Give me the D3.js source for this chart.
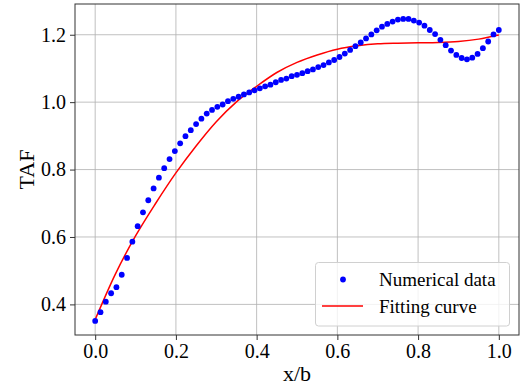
<!DOCTYPE html>
<html>
<head>
<meta charset="utf-8">
<script src="https://cdn.jsdelivr.net/npm/d3@7"></script>
<style>
  body { margin: 0; background: #fff; }
  svg { display: block; font-family: "Liberation Serif", "Times New Roman", serif; }
</style>
</head>
<body>
<script>
// numerical data, 77 points over x/b = 0..1
const numY = [
  0.351, 0.377, 0.408, 0.433, 0.451, 0.488, 0.538, 0.586, 0.632, 0.673,
  0.709, 0.744, 0.776, 0.804, 0.831, 0.855, 0.878, 0.899, 0.917, 0.935,
  0.951, 0.966, 0.977, 0.986, 0.993, 1.003, 1.010, 1.016, 1.023, 1.029,
  1.035, 1.041, 1.047, 1.052, 1.059, 1.066, 1.070, 1.077, 1.081, 1.086,
  1.092, 1.097, 1.104, 1.110, 1.118, 1.125, 1.134, 1.144, 1.155, 1.166,
  1.177, 1.189, 1.201, 1.213, 1.224, 1.232, 1.239, 1.245, 1.247, 1.247,
  1.242, 1.236, 1.227, 1.214, 1.202, 1.185, 1.169, 1.153, 1.140, 1.131,
  1.127, 1.132, 1.143, 1.160, 1.180, 1.201, 1.214
];
const numX = numY.map((d, i) => i / (numY.length - 1));

// fitting curve
const fitX = [0, 0.05, 0.1, 0.15, 0.2, 0.25, 0.3, 0.35, 0.4, 0.45, 0.5,
              0.55, 0.6, 0.65, 0.7, 0.75, 0.8, 0.85, 0.9, 0.95, 1.0];
const fitY = [0.355, 0.490, 0.603, 0.700, 0.790, 0.870, 0.942, 1.001, 1.047, 1.088, 1.118,
              1.140, 1.157, 1.167, 1.173, 1.175, 1.176, 1.177, 1.180, 1.187, 1.199];

const xTicks = [0.0, 0.2, 0.4, 0.6, 0.8, 1.0];
const yTicks = [0.4, 0.6, 0.8, 1.0, 1.2];
const legendLabels = ["Numerical data", "Fitting curve"];

const W = 522, H = 387;
const margin = {top: 4, right: 3, bottom: 52, left: 75};
const serif = "'Liberation Serif', 'Times New Roman', serif";

const svg = d3.select("body").append("svg")
  .attr("width", W).attr("height", H);

const x = d3.scaleLinear().domain([-0.05, 1.05]).range([margin.left, W - margin.right]);
const y = d3.scaleLinear().domain([0.3092, 1.2912]).range([H - margin.bottom, margin.top]);

// grid
const grid = svg.append("g").attr("stroke", "#b0b0b0").attr("stroke-width", 0.8);
xTicks.forEach(t => {
  grid.append("line")
    .attr("x1", x(t)).attr("x2", x(t))
    .attr("y1", margin.top).attr("y2", H - margin.bottom);
});
yTicks.forEach(t => {
  grid.append("line")
    .attr("x1", margin.left).attr("x2", W - margin.right)
    .attr("y1", y(t)).attr("y2", y(t));
});

// axes
const xAxis = svg.append("g")
  .attr("transform", "translate(0," + (H - margin.bottom) + ")")
  .call(d3.axisBottom(x).tickValues(xTicks).tickFormat(d3.format(".1f")).tickSize(5).tickPadding(4));
const yAxis = svg.append("g")
  .attr("transform", "translate(" + margin.left + ",0)")
  .call(d3.axisLeft(y).tickValues(yTicks).tickFormat(d3.format(".1f")).tickSize(5).tickPadding(4));

[xAxis, yAxis].forEach(a => {
  a.attr("font-family", serif).attr("font-size", 20);
  a.select(".domain").remove();
  a.selectAll("line").attr("stroke", "#333");
  a.selectAll("text").attr("fill", "#000");
});

// frame
svg.append("rect")
  .attr("x", margin.left).attr("y", margin.top)
  .attr("width", W - margin.left - margin.right)
  .attr("height", H - margin.top - margin.bottom)
  .attr("fill", "none").attr("stroke", "#333").attr("stroke-width", 1);

// fitting curve
const line = d3.line()
  .x((d, i) => x(fitX[i]))
  .y(d => y(d))
  .curve(d3.curveMonotoneX);
svg.append("path")
  .attr("d", line(fitY))
  .attr("fill", "none").attr("stroke", "#ff0000").attr("stroke-width", 1.5);

// numerical points
svg.append("g").selectAll("circle")
  .data(numY)
  .join("circle")
  .attr("cx", (d, i) => x(numX[i]))
  .attr("cy", d => y(d))
  .attr("r", 2.9)
  .attr("fill", "#0000ff");

// axis labels
svg.append("text")
  .attr("x", (margin.left + W - margin.right) / 2).attr("y", 381)
  .attr("text-anchor", "middle").style("font-size", "22px")
  .text("x/b");
svg.append("text")
  .attr("transform", "translate(34," + ((margin.top + H - margin.bottom) / 2) + ") rotate(-90)")
  .attr("text-anchor", "middle").style("font-size", "22px")
  .text("TAF");

// legend
const lg = svg.append("g");
lg.append("rect")
  .attr("x", 315.5).attr("y", 262.5).attr("width", 194).attr("height", 63.5)
  .attr("rx", 3)
  .attr("fill", "#fff").attr("fill-opacity", 0.8)
  .attr("stroke", "#d0d0d0").attr("stroke-width", 1);
lg.append("circle").attr("cx", 343).attr("cy", 279.5).attr("r", 2.9).attr("fill", "#0000ff");
lg.append("line").attr("x1", 322).attr("x2", 363).attr("y1", 306).attr("y2", 306)
  .attr("stroke", "#ff0000").attr("stroke-width", 1.5);
legendLabels.forEach((t, i) => {
  lg.append("text")
    .attr("x", 379).attr("y", 286 + i * 27)
    .style("font-size", "19px")
    .text(t);
});
</script>
</body>
</html>
